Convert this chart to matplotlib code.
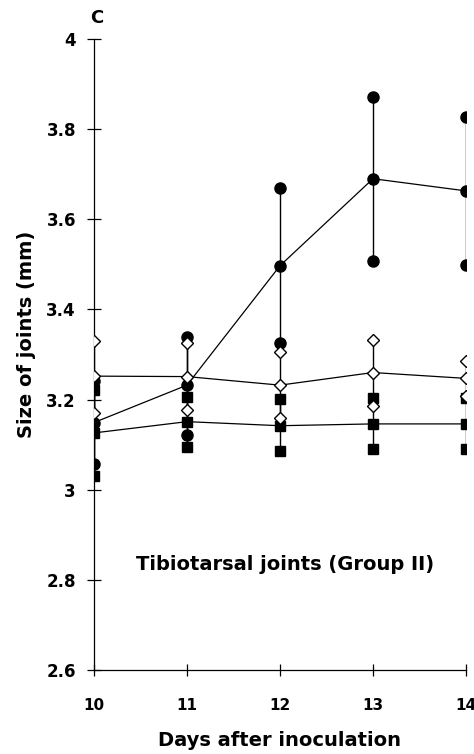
import matplotlib
matplotlib.use("Agg")
import matplotlib.pyplot as plt

plt.rcParams['font.family'] = ['DejaVu Sans']

days = [10, 11, 12, 13, 14]

# filled circles
circ_mean = [3.149, 3.232, 3.497, 3.690, 3.663]
circ_up = [3.241, 3.339, 3.669, 3.872, 3.828]
circ_lo = [3.058, 3.121, 3.326, 3.507, 3.499]

# open diamonds
diam_mean = [3.252, 3.251, 3.232, 3.260, 3.247]
diam_up = [3.331, 3.325, 3.305, 3.333, 3.286]
diam_lo = [3.171, 3.177, 3.159, 3.186, 3.209]

# filled squares
sq_mean = [3.126, 3.151, 3.142, 3.146, 3.146]
sq_up = [3.221, 3.206, 3.202, 3.203, 3.203]
sq_lo = [3.030, 3.095, 3.087, 3.090, 3.090]

yticks = [2.6, 2.8, 3.0, 3.2, 3.4, 3.6, 3.8, 4.0]
ytick_labels = ['2.6', '2.8', '3', '3.2', '3.4', '3.6', '3.8', '4']
xtick_labels = ['10', '11', '12', '13', '14']

fig = plt.figure(figsize=(4.74, 7.54), dpi=100)
ax = fig.add_axes([94/474, 1 - 670/754, (466 - 94)/474, (670 - 39)/754])

series = [
    (sq_mean, sq_up, sq_lo, 's', 'black', 6.5),
    (circ_mean, circ_up, circ_lo, 'o', 'black', 8),
    (diam_mean, diam_up, diam_lo, 'D', 'white', 6.0),
]

# error bar stems
for mean, up, lo, m, fc, ms in series:
    ax.vlines(days, lo, up, color='black', lw=1.0, zorder=1)

# mean lines
for mean, up, lo, m, fc, ms in series:
    ax.plot(days, mean, color='black', lw=0.9, zorder=2)

# markers
for mean, up, lo, m, fc, ms in series:
    for vals in (up, lo, mean):
        ax.plot(days, vals, ls='none', marker=m, ms=ms,
                mfc=fc, mec='black', mew=1.0, zorder=3)

ax.set_xlim(10, 14)
ax.set_ylim(2.6, 4.0)
ax.set_yticks(yticks)
ax.set_yticklabels(ytick_labels, fontsize=12, fontweight='bold')
ax.set_xticks(days)
ax.set_xticklabels(xtick_labels, fontsize=11, fontweight='bold')
ax.tick_params(axis='y', direction='inout', length=10, width=0.9, pad=8)
ax.tick_params(axis='x', direction='inout', length=8, width=0.9, pad=16)
for s in ('top', 'right'):
    ax.spines[s].set_visible(False)
for s in ('left', 'bottom'):
    ax.spines[s].set_linewidth(0.9)
for lab in ax.get_xticklabels():
    lab.set_clip_on(False)

ax.set_ylabel('Size of joints (mm)', fontsize=14, fontweight='bold')
ax.yaxis.set_label_coords((36 - 94) / 372, (670 - 334) / 631)
ax.set_xlabel('Days after inoculation', fontsize=14, fontweight='bold', labelpad=13)
ax.text(12.05, 2.835, 'Tibiotarsal joints (Group II)', fontsize=14,
        fontweight='bold', ha='center', va='center')
fig.text(97/474, 1 - 18/754, 'C', fontsize=13, fontweight='bold',
         ha='center', va='center')

fig.savefig('out.png', dpi=100)
